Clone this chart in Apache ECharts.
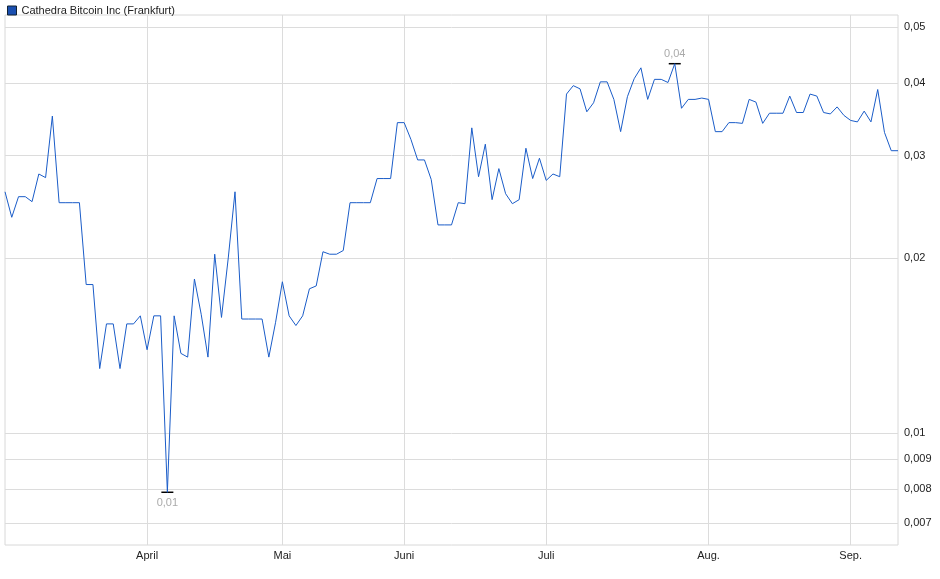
<!DOCTYPE html>
<html><head><meta charset="utf-8">
<script src="https://cdn.jsdelivr.net/npm/echarts@6/dist/echarts.min.js"></script>
<style>html,body{margin:0;padding:0;background:#fff}#c{width:940px;height:579px}</style>
</head><body><div id="c"></div>
<script>
const seriesName = 'Cathedra Bitcoin Inc (Frankfurt)';
const prices = [
0.0260,0.0235,0.0255,0.0255,0.0250,0.0279,0.0275,0.0351,0.0249,0.0249,
0.0249,0.0249,0.0180,0.0180,0.0129,0.0154,0.0154,0.0129,0.0154,0.0154,
0.0159,0.0139,0.0159,0.0159,0.0079,0.0159,0.0137,0.0135,0.0184,0.0160,
0.0135,0.0203,0.0158,0.0200,0.0260,0.0157,0.0157,0.0157,0.0157,0.0135,
0.0155,0.0182,0.0159,0.0153,0.0159,0.0177,
0.0179,0.0205,0.0203,0.0203,0.0206,0.0249,0.0249,0.0249,0.0249,0.0274,
0.0274,0.0274,0.0342,0.0342,0.0320,0.0295,0.0295,0.0273,0.0228,0.0228,
0.0228,0.0249,0.0248,0.0335,0.0276,0.0314,0.0252,0.0285,0.0258,0.0248,
0.0252,0.0309,0.0274,0.0297,0.0272,0.0279,0.0276,0.0383,0.0396,0.0391,
0.0357,0.0370,0.0402,0.0402,0.0375,
0.0330,0.0379,0.0407,0.0425,0.0375,0.0406,0.0406,0.0401,0.0432,0.0362,
0.0375,0.0375,0.0377,0.0375,0.0330,0.0330,0.0342,0.0342,0.0341,0.0375,
0.0371,0.0341,0.0355,0.0355,0.0355,0.0380,0.0356,0.0356,0.0383,0.0380,
0.0356,0.0354,0.0364,0.0352,0.0345,0.0343,0.0358,0.0343,0.0390,0.0329,
0.0306,0.0306
];
const monthNames = ['April','Mai','Juni','Juli','Aug.','Sep.'];
const monthIdx = [21,41,59,80,104,125];
const yTicks = [0.05,0.04,0.03,0.02,0.01,0.009,0.008,0.007];

const categories = prices.map((_, i) => String(i));
const lastCat = categories[categories.length - 1];
const fmt = v => String(v).replace('.', ',');
const chart = echarts.init(document.getElementById('c'));
chart.setOption({
  animation: false,
  legend: {
    left: 2, top: 0, itemWidth: 9, itemHeight: 9, icon: 'rect', itemGap: 4,
    textStyle: { fontFamily: 'Liberation Sans', fontSize: 11, color: '#222' },
    data: [{ name: seriesName, itemStyle: { color: '#1a4fb0', borderColor: '#123', borderWidth: 1 } }]
  },
  grid: { left: 5, right: 42, top: 15, bottom: 34, show: true, borderColor: '#d8d8d8', borderWidth: 1 },
  xAxis: {
    type: 'category', data: categories, boundaryGap: false,
    axisLine: { show: false }, axisTick: { show: false },
    axisLabel: {
      interval: i => monthIdx.includes(i),
      formatter: (v) => { const k = monthIdx.indexOf(Number(v)); return k >= 0 ? monthNames[k] : ''; },
      fontFamily: 'Liberation Sans', fontSize: 11, color: '#222', margin: 5
    },
    splitLine: { show: true, interval: i => monthIdx.includes(i), lineStyle: { color: '#dcdcdc', width: 1 } }
  },
  yAxis: {
    type: 'log', logBase: 10, min: 0.00641, max: 0.0524, position: 'right',
    axisLine: { show: false }, axisTick: { show: false }, axisLabel: { show: false },
    splitLine: { show: false }
  },
  series: [{
    name: seriesName, type: 'line', data: prices, showSymbol: false, symbol: 'none',
    lineStyle: { color: '#1a5cc8', width: 1 }, itemStyle: { color: '#1a4fb0' },
    markLine: {
      silent: true, symbol: 'none', animation: false,
      lineStyle: { color: '#dcdcdc', type: 'solid', width: 1 },
      label: { position: 'end', distance: 6, formatter: '{b}', fontFamily: 'Liberation Sans', fontSize: 11, color: '#222' },
      data: yTicks.map(v => [
        { name: fmt(v), coord: ['0', v] },
        { coord: [lastCat, v] }
      ])
    },
    markPoint: {
      silent: true, symbol: 'rect', symbolSize: [12, 1.5],
      itemStyle: { color: '#000' },
      label: { fontFamily: 'Liberation Sans', fontSize: 11, color: '#aaa', formatter: p => fmt(p.value.toFixed(2)) },
      data: [
        { type: 'min', label: { position: 'bottom', distance: 4 } },
        { type: 'max', label: { position: 'top', distance: 3 } }
      ]
    },
    z: 5
  }]
});
</script></body></html>
